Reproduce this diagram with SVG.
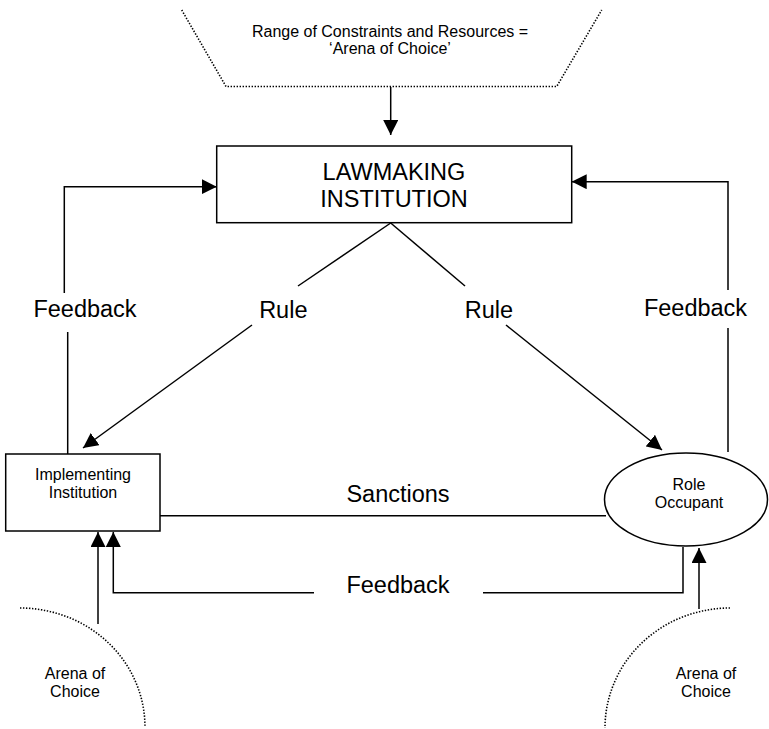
<svg xmlns="http://www.w3.org/2000/svg" width="769" height="729" viewBox="0 0 769 729">
<style>
text{font-family:"Liberation Sans",Arial,sans-serif;fill:#000;text-anchor:middle}
.big{font-size:23.5px}
.sm{font-size:16px}
.ln{fill:none;stroke:#000;stroke-width:1.5}
.dot{fill:none;stroke:#000;stroke-width:1.6;stroke-dasharray:1.4 1.6}
.nd{fill:#fff;stroke:#000;stroke-width:1.5}
</style>
<defs>
<marker id="ah" markerUnits="userSpaceOnUse" markerWidth="15" markerHeight="15" refX="15" refY="7.5" orient="auto">
<path d="M0,0 L15,7.5 L0,15 z" fill="#000"/>
</marker>
</defs>
<g id="arena-top">
<path class="dot" d="M181.7,10 L226,86.5 L556.7,86.5 L601.7,10"/>
<text class="sm" x="390" y="37">Range of Constraints and Resources =</text>
<text class="sm" x="390" y="54">‘Arena of Choice’</text>
</g>
<g id="arena-left">
<path class="dot" d="M20,608 A125,119 0 0 1 145,727"/>
<text class="sm" x="75" y="679">Arena of</text>
<text class="sm" x="75" y="697">Choice</text>
</g>
<g id="arena-right">
<path class="dot" d="M730,608 A125,120 0 0 0 605,728"/>
<text class="sm" x="706" y="679">Arena of</text>
<text class="sm" x="706" y="697">Choice</text>
</g>
<g id="connectors">
<line class="ln" x1="390.7" y1="87" x2="390.7" y2="135" marker-end="url(#ah)"/>
<polyline class="ln" points="64.3,293 64.3,186.7 216.7,186.7" marker-end="url(#ah)"/>
<line class="ln" x1="67.7" y1="332" x2="67.7" y2="454"/>
<polyline class="ln" points="728,290 728,181.7 571.7,181.7" marker-end="url(#ah)"/>
<line class="ln" x1="728" y1="328" x2="728" y2="452"/>
<line class="ln" x1="390.7" y1="223" x2="298" y2="286"/>
<line class="ln" x1="390.7" y1="223" x2="465" y2="286"/>
<line class="ln" x1="252" y1="325" x2="83" y2="448" marker-end="url(#ah)"/>
<line class="ln" x1="506" y1="325" x2="662" y2="450" marker-end="url(#ah)"/>
<line class="ln" x1="160" y1="515.7" x2="606" y2="515.7"/>
<polyline class="ln" points="683,547 683,592.7 483,592.7"/>
<polyline class="ln" points="314,592.7 113.3,592.7 113.3,532" marker-end="url(#ah)"/>
<line class="ln" x1="98" y1="624" x2="98" y2="532" marker-end="url(#ah)"/>
<line class="ln" x1="699" y1="609" x2="699" y2="548" marker-end="url(#ah)"/>
<text class="big" x="283.3" y="317.7">Rule</text>
<text class="big" x="489" y="317.7">Rule</text>
<text class="big" x="85" y="317">Feedback</text>
<text class="big" x="695.5" y="316">Feedback</text>
<text class="big" x="398" y="501.7">Sanctions</text>
<text class="big" x="398" y="592.7">Feedback</text>
</g>
<g id="lawmaking">
<rect class="nd" x="216.7" y="146" width="355" height="76.7"/>
<text class="big" x="394" y="180">LAWMAKING</text>
<text class="big" x="394" y="206.7">INSTITUTION</text>
</g>
<g id="implementing">
<rect class="nd" x="5.7" y="454" width="154.3" height="77"/>
<text class="sm" x="83" y="480">Implementing</text>
<text class="sm" x="83" y="498">Institution</text>
</g>
<g id="role">
<ellipse class="nd" cx="686" cy="499.5" rx="81.5" ry="46.5"/>
<text class="sm" x="689" y="490">Role</text>
<text class="sm" x="689" y="508">Occupant</text>
</g>
</svg>
